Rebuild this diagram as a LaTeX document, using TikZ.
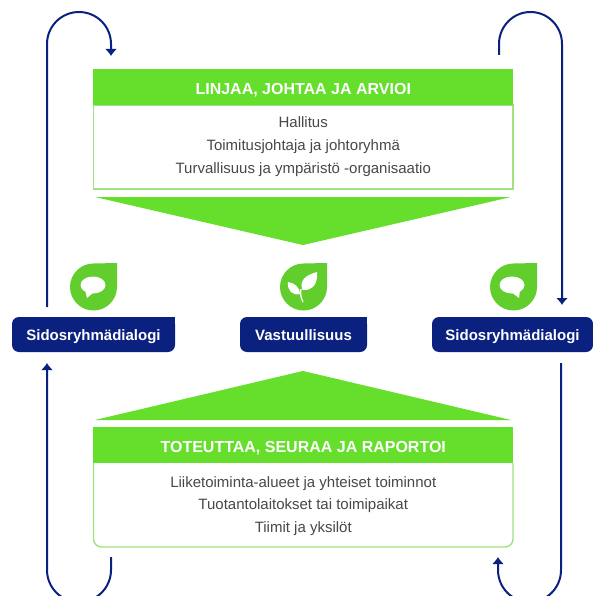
\documentclass[tikz,border=0pt]{standalone}
\usepackage{fontspec}
\setmainfont{Liberation Sans}
\usetikzlibrary{arrows.meta}
\definecolor{headgreen}{HTML}{66DE2C}
\definecolor{dropgreen}{HTML}{62CE2E}
\definecolor{linegreen}{HTML}{9FE27F}
\definecolor{navy}{HTML}{0A2180}
\definecolor{bodygray}{HTML}{484848}
\tikzset{
  headbox/.style={fill=headgreen,text=white,minimum width=420pt,minimum height=36pt,inner sep=0pt,text height=14.6pt,text depth=0pt,font=\fontsize{16pt}{18pt}\selectfont\bfseries},
  linetext/.style={anchor=base,text=bodygray,inner sep=0pt,font=\fontsize{15pt}{18pt}\selectfont},
  boxline/.style={draw=linegreen,line width=1.4pt},
  pillbox/.style={fill=navy,text=white,rounded corners=7pt,minimum height=35pt,inner sep=0pt,text height=11pt,text depth=0pt,font=\fontsize{15pt}{18pt}\selectfont\bfseries},
  loopline/.style={draw=navy,line width=2pt,-{Latex[length=7pt,width=12pt]}},
}
\begin{document}
\begin{tikzpicture}[x=1pt,y=1pt]
\path [use as bounding box,clip] (0, 0) rectangle (593, -596);
\fill [white] (0, 0) rectangle (593, -596);

% top block
\draw [boxline] (93.5, -105) rectangle (513, -189);
\node (tophead) at (303.25, -87) [headbox] {LINJAA, JOHTAA JA ARVIOI};
\node (topa) at (303.25, -128) [linetext] {Hallitus};
\node (topb) at (303.25, -150.5) [linetext] {Toimitusjohtaja ja johtoryhmä};
\node (topc) at (303.25, -173) [linetext] {Turvallisuus ja ympäristö -organisaatio};
\fill [headgreen] (95, -197) -- (511, -197) -- (303, -245) -- cycle;

% bottom block
\fill [headgreen] (95, -420) -- (511, -420) -- (303, -371) -- cycle;
\draw [boxline,rounded corners=8pt] (93.5, -463) -- (93.5, -547) -- (513, -547) -- (513, -463);
\node (lowhead) at (303.25, -445) [headbox] {TOTEUTTAA, SEURAA JA RAPORTOI};
\node (lowa) at (303.25, -487) [linetext] {Liiketoiminta-alueet ja yhteiset toiminnot};
\node (lowb) at (303.25, -509.5) [linetext] {Tuotantolaitokset tai toimipaikat};
\node (lowc) at (303.25, -532) [linetext] {Tiimit ja yksilöt};

% labels
\node (leftpill) at (93.5, -334.5) [pillbox,minimum width=163pt] {Sidosryhmädialogi};
\node (midpill) at (303.5, -334.5) [pillbox,minimum width=127pt] {Vastuullisuus};
\node (rightpill) at (512.5, -334.5) [pillbox,minimum width=161pt] {Sidosryhmädialogi};
\fill [navy] (leftpill.north east) rectangle ++(-8, -8);
\fill [navy] (midpill.north east) rectangle ++(-8, -8);

% drops
\fill [dropgreen] (117, -263) -- (117, -287) arc [start angle=0,end angle=-270,radius=23.5] -- cycle;
\fill [dropgreen] (327, -263) -- (327, -287) arc [start angle=0,end angle=-270,radius=23.5] -- cycle;
\fill [dropgreen] (537, -263) -- (537, -287) arc [start angle=0,end angle=-270,radius=23.5] -- cycle;

% bubbles
\fill [white] (93, -285) ellipse [x radius=12.5, y radius=8.5];
\fill [white] (85, -290) -- (87, -298) -- (94, -292) -- cycle;
\fill [white] (512, -285) ellipse [x radius=12.5, y radius=8.5];
\fill [white] (520, -290) -- (519, -298) -- (511, -292) -- cycle;

% leaf
\fill [white] (302.5, -290) .. controls (299, -280) and (306, -275) .. (317, -272) .. controls (318, -283) and (313, -291) .. (302.5, -290) -- cycle;
\fill [white] (300.5, -294) .. controls (299, -287) and (295, -283) .. (288, -282) .. controls (287, -290) and (292, -296) .. (300.5, -294) -- cycle;
\draw [white,line width=1.3pt] (301, -289) .. controls (300, -294) and (301, -298) .. (303, -302);

% free ends of the loops
\coordinate (ltstart) at (47, -307);
\coordinate (ltend) at (111, -56);
\coordinate (rtstart) at (499, -55);
\coordinate (rtend) at (562, -305);
\coordinate (lbstart) at (111, -557);
\coordinate (lbend) at (47, -363);
\coordinate (rbstart) at (561, -363);
\coordinate (rbend) at (498, -557);

\draw [loopline] (ltstart) -- (47, -44) arc [start angle=180,end angle=0,radius=32] -- (ltend);
\draw [loopline] (rtstart) -- (499, -44) arc [start angle=180,end angle=0,x radius=31.5,y radius=32] -- (rtend);
\draw [loopline] (lbstart) -- (111, -570) arc [start angle=0,end angle=-180,radius=32] -- (lbend);
\draw [loopline] (rbstart) -- (561, -570) arc [start angle=0,end angle=-180,x radius=31.5,y radius=32] -- (rbend);
\end{tikzpicture}
\end{document}
